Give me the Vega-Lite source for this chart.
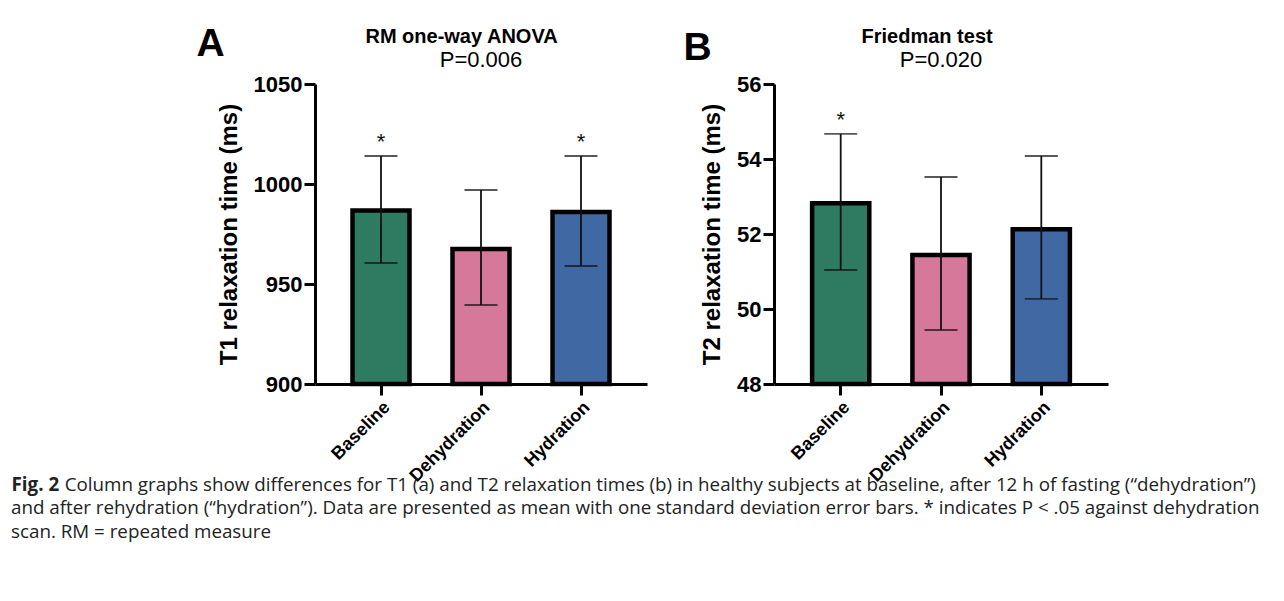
{
  "$schema": "https://vega.github.io/schema/vega-lite/v6.json",
  "background": "white",
  "padding": {"left": 11, "top": 24, "right": 10, "bottom": 5},
  "title": {
    "text": [
      "\u200b\u00a0\u00a0\u00a0\u00a0\u00a0\u00a0\u00a0\u00a0\u00a0\u00a0\u00a0Column graphs show differences for T1 (a) and T2 relaxation times (b) in healthy subjects at baseline, after 12 h of fasting (“dehydration”)",
      "and after rehydration (“hydration”). Data are presented as mean with one standard deviation error bars. * indicates P < .05 against dehydration",
      "scan. RM = repeated measure"
    ],
    "orient": "bottom",
    "anchor": "start",
    "frame": "group",
    "dx": -304,
    "font": "Open Sans",
    "fontSize": 18.8,
    "fontWeight": "normal",
    "color": "#222222",
    "lineHeight": 23.5,
    "offset": -18
  },
  "spacing": 36,
  "hconcat": [
    {
      "width": 332,
      "height": 300,
      "title": {
        "text": "RM one-way ANOVA\u00a0\u00a0\u00a0\u00a0\u00a0\u00a0\u00a0\u200b",
        "subtitle": "P=0.006",
        "offset": -47
      },
      "data": {
        "values": [
          {"cond": "Baseline", "mean": 986.7, "lo": 960.5, "hi": 1014, "sig": "*"},
          {"cond": "Dehydration", "mean": 967.5, "lo": 939.5, "hi": 997, "sig": ""},
          {"cond": "Hydration", "mean": 986, "lo": 959, "hi": 1014, "sig": "*"}
        ]
      },
      "layer": [
        {
          "mark": {"type": "bar", "stroke": "black", "strokeWidth": 4.5},
          "encoding": {
            "x": {
              "field": "cond", "type": "nominal", "sort": null,
              "scale": {"paddingInner": 0.43, "paddingOuter": 0.375},
              "axis": {
                "orient": "bottom", "labelAngle": -45, "labelFontSize": 18, "labelPadding": 3,
                "title": "Fig. 2", "titleX": -304, "titleY": 106, "titleAlign": "left",
                "titleAnchor": null, "titleAngle": 0, "titleBaseline": "alphabetic",
                "titleFont": "Open Sans", "titleFontSize": 18.8, "titleFontWeight": "bold", "titleColor": "#222222"
              }
            },
            "y": {
              "field": "mean", "type": "quantitative",
              "scale": {"domain": [900, 1050], "zero": false, "nice": false},
              "axis": {"values": [900, 950, 1000, 1050], "format": "d", "title": "T1 relaxation time (ms)"}
            },
            "y2": {"datum": 900},
            "color": {
              "field": "cond", "type": "nominal",
              "scale": {"domain": ["Baseline", "Dehydration", "Hydration"], "range": ["#2e7b61", "#d5789a", "#4068a2"]},
              "legend": null
            }
          }
        },
        {
          "mark": {"type": "rule", "color": "#111111", "strokeWidth": 1.8},
          "encoding": {
            "x": {"field": "cond", "type": "nominal", "sort": null, "axis": null},
            "y": {"field": "lo", "type": "quantitative"},
            "y2": {"field": "hi"}
          }
        },
        {
          "mark": {"type": "tick", "color": "#111111", "size": 33, "thickness": 1.8},
          "encoding": {
            "x": {"field": "cond", "type": "nominal", "sort": null, "axis": null},
            "y": {"field": "hi", "type": "quantitative"}
          }
        },
        {
          "mark": {"type": "tick", "color": "#111111", "size": 33, "thickness": 1.8},
          "encoding": {
            "x": {"field": "cond", "type": "nominal", "sort": null, "axis": null},
            "y": {"field": "lo", "type": "quantitative"}
          }
        },
        {
          "mark": {"type": "text", "font": "Liberation Sans", "fontSize": 22, "color": "#111111", "baseline": "alphabetic", "dy": -7},
          "encoding": {
            "x": {
              "field": "cond", "type": "nominal", "sort": null,
              "axis": {
                "orient": "top", "domain": false, "ticks": false, "labels": false,
                "title": "A", "titleFontSize": 39, "titleFontWeight": "bold",
                "titleX": -119, "titleY": -29, "titleAlign": "left", "titleAnchor": null,
                "titleAngle": 0, "titleBaseline": "alphabetic"
              }
            },
            "y": {"field": "hi", "type": "quantitative"},
            "text": {"field": "sig"}
          }
        }
      ],
      "resolve": {"axis": {"x": "independent"}}
    },
    {
      "width": 334,
      "height": 300,
      "title": {
        "text": "Friedman test\u00a0\u00a0\u00a0\u00a0\u00a0\u200b",
        "subtitle": "P=0.020",
        "offset": -43
      },
      "data": {
        "values": [
          {"cond": "Baseline", "mean": 52.82, "lo": 51.04, "hi": 54.67, "sig": "*"},
          {"cond": "Dehydration", "mean": 51.44, "lo": 49.44, "hi": 53.52, "sig": ""},
          {"cond": "Hydration", "mean": 52.13, "lo": 50.27, "hi": 54.08, "sig": ""}
        ]
      },
      "layer": [
        {
          "mark": {"type": "bar", "stroke": "black", "strokeWidth": 4.5},
          "encoding": {
            "x": {
              "field": "cond", "type": "nominal", "sort": null,
              "scale": {"paddingInner": 0.43, "paddingOuter": 0.38},
              "axis": {"orient": "bottom", "labelAngle": -45, "labelFontSize": 18, "labelPadding": 3, "title": null}
            },
            "y": {
              "field": "mean", "type": "quantitative",
              "scale": {"domain": [48, 56], "zero": false, "nice": false},
              "axis": {"values": [48, 50, 52, 54, 56], "format": "d", "title": "T2 relaxation time (ms)"}
            },
            "y2": {"datum": 48},
            "color": {
              "field": "cond", "type": "nominal",
              "scale": {"domain": ["Baseline", "Dehydration", "Hydration"], "range": ["#2e7b61", "#d5789a", "#4068a2"]},
              "legend": null
            }
          }
        },
        {
          "mark": {"type": "rule", "color": "#111111", "strokeWidth": 1.8},
          "encoding": {
            "x": {"field": "cond", "type": "nominal", "sort": null, "axis": null},
            "y": {"field": "lo", "type": "quantitative"},
            "y2": {"field": "hi"}
          }
        },
        {
          "mark": {"type": "tick", "color": "#111111", "size": 33, "thickness": 1.8},
          "encoding": {
            "x": {"field": "cond", "type": "nominal", "sort": null, "axis": null},
            "y": {"field": "hi", "type": "quantitative"}
          }
        },
        {
          "mark": {"type": "tick", "color": "#111111", "size": 33, "thickness": 1.8},
          "encoding": {
            "x": {"field": "cond", "type": "nominal", "sort": null, "axis": null},
            "y": {"field": "lo", "type": "quantitative"}
          }
        },
        {
          "mark": {"type": "text", "font": "Liberation Sans", "fontSize": 22, "color": "#111111", "baseline": "alphabetic", "dy": -7},
          "encoding": {
            "x": {
              "field": "cond", "type": "nominal", "sort": null,
              "axis": {
                "orient": "top", "domain": false, "ticks": false, "labels": false,
                "title": "B", "titleFontSize": 39, "titleFontWeight": "bold",
                "titleX": -91, "titleY": -25, "titleAlign": "left", "titleAnchor": null,
                "titleAngle": 0, "titleBaseline": "alphabetic"
              }
            },
            "y": {"field": "hi", "type": "quantitative"},
            "text": {"field": "sig"}
          }
        }
      ],
      "resolve": {"axis": {"x": "independent"}}
    }
  ],
  "config": {
    "view": {"stroke": null},
    "font": "Liberation Sans",
    "axis": {
      "grid": false,
      "domainColor": "black", "domainWidth": 3,
      "tickColor": "black", "tickWidth": 3, "tickSize": 11,
      "labelFont": "Liberation Sans", "labelFontWeight": "bold", "labelColor": "black",
      "titleFont": "Liberation Sans", "titleFontWeight": "bold", "titleColor": "black"
    },
    "axisY": {"labelFontSize": 22, "labelPadding": 2, "titleFontSize": 24, "titlePadding": 12},
    "title": {
      "anchor": "middle", "frame": "group",
      "font": "Liberation Sans", "fontSize": 20, "fontWeight": "bold", "color": "black",
      "subtitleFont": "Liberation Sans", "subtitleFontSize": 22, "subtitleColor": "black",
      "subtitlePadding": 0
    }
  }
}
